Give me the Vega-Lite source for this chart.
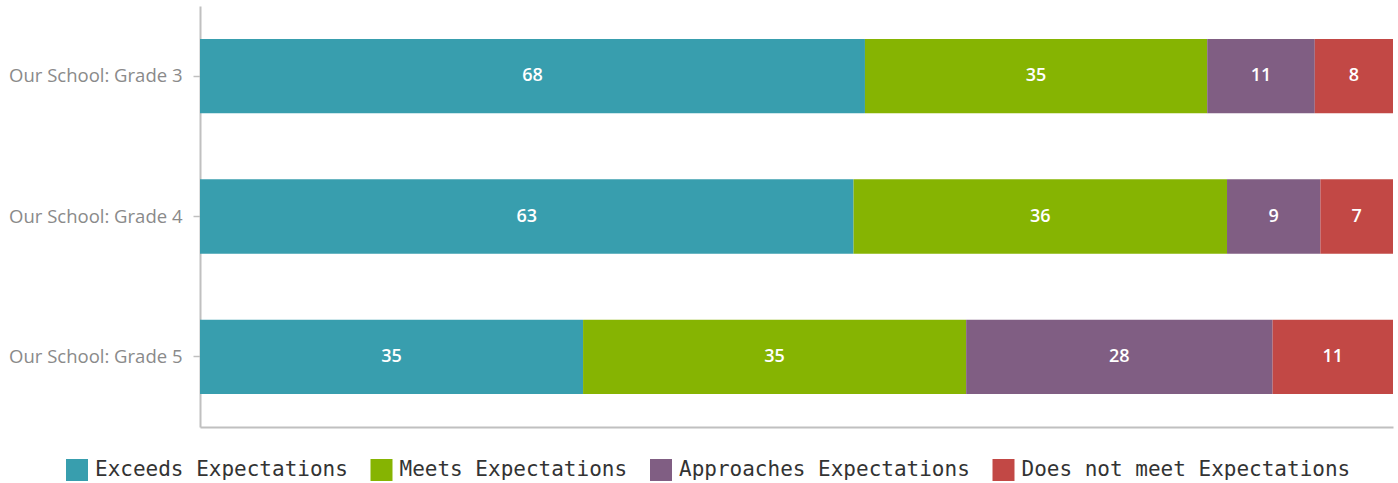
{
  "$schema": "https://vega.github.io/schema/vega-lite/v6.json",
  "autosize": "none",
  "padding": {"left": 200, "top": 6, "right": 5, "bottom": 56},
  "width": 1193,
  "height": 421,
  "background": "white",
  "config": {"view": {"stroke": null}},
  "data": {
    "values": [
      {"grade": "Our School: Grade 3", "category": "Exceeds Expectations", "rank": 1, "value": 68},
      {"grade": "Our School: Grade 3", "category": "Meets Expectations", "rank": 2, "value": 35},
      {"grade": "Our School: Grade 3", "category": "Approaches Expectations", "rank": 3, "value": 11},
      {"grade": "Our School: Grade 3", "category": "Does not meet Expectations", "rank": 4, "value": 8},
      {"grade": "Our School: Grade 4", "category": "Exceeds Expectations", "rank": 1, "value": 63},
      {"grade": "Our School: Grade 4", "category": "Meets Expectations", "rank": 2, "value": 36},
      {"grade": "Our School: Grade 4", "category": "Approaches Expectations", "rank": 3, "value": 9},
      {"grade": "Our School: Grade 4", "category": "Does not meet Expectations", "rank": 4, "value": 7},
      {"grade": "Our School: Grade 5", "category": "Exceeds Expectations", "rank": 1, "value": 35},
      {"grade": "Our School: Grade 5", "category": "Meets Expectations", "rank": 2, "value": 35},
      {"grade": "Our School: Grade 5", "category": "Approaches Expectations", "rank": 3, "value": 28},
      {"grade": "Our School: Grade 5", "category": "Does not meet Expectations", "rank": 4, "value": 11}
    ]
  },
  "encoding": {
    "y": {
      "field": "grade",
      "type": "nominal",
      "title": null,
      "scale": {"paddingInner": 0.47, "paddingOuter": 0.235},
      "axis": {
        "labelFont": "Open Sans",
        "labelFontSize": 18.5,
        "labelColor": "#8a8a8a",
        "labelPadding": 11,
        "domainColor": "#c0c0c0",
        "domainWidth": 2,
        "tickColor": "#c0c0c0",
        "tickSize": 7,
        "tickWidth": 1.5
      }
    },
    "x": {
      "field": "value",
      "type": "quantitative",
      "aggregate": "sum",
      "stack": "normalize",
      "title": null,
      "scale": {"domain": [0, 1], "nice": false},
      "axis": {
        "labels": false,
        "ticks": false,
        "grid": false,
        "domainColor": "#c0c0c0",
        "domainWidth": 2
      }
    },
    "order": {"field": "rank", "type": "quantitative", "sort": "ascending"}
  },
  "layer": [
    {
      "mark": {"type": "bar"},
      "encoding": {
        "color": {
          "field": "category",
          "type": "nominal",
          "sort": ["Exceeds Expectations", "Meets Expectations", "Approaches Expectations", "Does not meet Expectations"],
          "scale": {
            "domain": ["Exceeds Expectations", "Meets Expectations", "Approaches Expectations", "Does not meet Expectations"],
            "range": ["#389eae", "#86b402", "#805e83", "#c24845"]
          },
          "legend": {
            "title": null,
            "orient": "none",
            "direction": "horizontal",
            "legendX": -134,
            "legendY": 453,
            "symbolType": "square",
            "symbolSize": 484,
            "symbolStrokeWidth": 0,
            "symbolOpacity": 1,
            "labelFont": "DejaVu Sans Mono",
            "labelFontSize": 21,
            "labelColor": "#333333",
            "labelOffset": 7,
            "columnPadding": 22.5,
            "labelLimit": 0
          }
        }
      }
    },
    {
      "mark": {"type": "text", "color": "white", "font": "Open Sans", "fontSize": 18, "fontWeight": 600, "baseline": "middle", "align": "center"},
      "encoding": {
        "x": {
          "field": "value",
          "type": "quantitative",
          "aggregate": "sum",
          "stack": "normalize",
          "bandPosition": 0.5
        },
        "text": {"field": "value", "type": "quantitative", "aggregate": "sum"},
        "detail": {"field": "category", "type": "nominal"}
      }
    }
  ]
}
